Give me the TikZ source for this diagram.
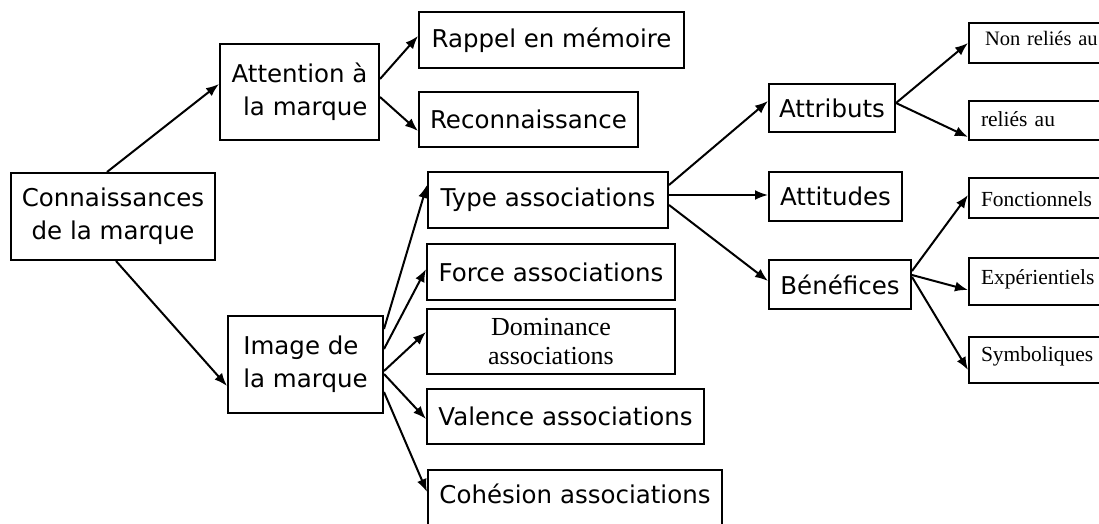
\documentclass[tikz,border=0pt]{standalone}
\usepackage{fontspec}
\setmainfont{DejaVu Sans}
\newfontfamily\seriffont{Liberation Serif}
\usetikzlibrary{arrows.meta,calc}
\begin{document}
\begin{tikzpicture}[x=1pt,y=-1pt,
  box/.style={draw, line width=2pt, inner sep=0pt, align=center, font=\fontsize{24.5}{33}\selectfont},
  rbox/.style={draw, line width=2pt, anchor=north west, inner xsep=12pt, inner ysep=0pt, text width=140pt, align=left, font=\seriffont\fontsize{21.5}{24}\selectfont},
  arr/.style={line width=2pt, -{Latex[length=13pt,width=10pt]}}]
\useasboundingbox (0,0) rectangle (1099,524);
\clip (0,0) rectangle (1099,524);
\fill[white] (0,0) rectangle (1099,524);
% left column
\node[box, minimum width=204pt, minimum height=87pt] (conn) at (113,216.5) {Connaissances\\de la marque};
\node[box, align=right, minimum width=159pt, minimum height=96pt] (att) at (299.5,92) {Attention à\\la marque};
\node[box, align=left, minimum width=155pt, minimum height=97pt] (img) at (305.5,364.5) {Image de\\la marque};
% middle column
\node[box, minimum width=265pt, minimum height=56pt] (rap) at (551.5,40) {Rappel en mémoire};
\node[box, minimum width=219pt, minimum height=55pt] (rec) at (528.5,119.5) {Reconnaissance};
\node[box, minimum width=240pt, minimum height=56pt] (type) at (548,200) {Type associations};
\node[box, minimum width=248pt, minimum height=56pt] (force) at (551,272) {Force associations};
\node[box, minimum width=248pt, minimum height=65pt, font=\seriffont\fontsize{26}{29}\selectfont] (dom) at (551,341.5) {Dominance\\associations};
\node[box, minimum width=277pt, minimum height=55pt] (val) at (565.5,416.5) {Valence associations};
\node[box, anchor=north west, minimum width=294pt, text height=33pt, text depth=58pt] (coh) at (427,469) {Cohésion associations};
% right-middle column
\node[box, minimum width=126pt, minimum height=48pt] (attr) at (832,108) {Attributs};
\node[box, minimum width=133pt, minimum height=49pt] (atti) at (835.5,196.5) {Attitudes};
\node[box, minimum width=142pt, minimum height=49pt] (ben) at (840,284.5) {Bénéfices};
% right column
\node[rbox, text height=23pt, text depth=17pt, font=\seriffont\fontsize{20.5}{24}\selectfont, inner xsep=16pt, text width=132pt] (nr) at (968,22) {Non reliés au};
\node[rbox, text height=25pt, text depth=14pt] (rel) at (968,100) {reliés au};
\node[rbox, text height=28pt, text depth=12pt] (fon) at (968,177) {Fonctionnels};
\node[rbox, text height=26pt, text depth=21pt] (exp) at (968,257) {Expérientiels};
\node[rbox, text height=24pt, text depth=22pt] (sym) at (968,336) {Symboliques};
% connectors
\draw[arr] ($(conn.north west)+(97,0)$) -- ($(att.north west)+(0,41)$);
\draw[arr] ($(conn.south west)+(106,0)$) -- ($(img.north west)+(0,71)$);
\draw[arr] ($(att.north east)+(0,36)$) -- ($(rap.north west)+(0,25)$);
\draw[arr] ($(att.north east)+(0,54)$) -- ($(rec.north west)+(0,40)$);
\draw[arr] ($(img.north east)+(0,14)$) -- ($(type.north west)+(0,14)$);
\draw[arr] ($(img.north east)+(0,34)$) -- ($(force.north west)+(0,26)$);
\draw[arr] ($(img.north east)+(0,56)$) -- ($(dom.north west)+(0,24)$);
\draw[arr] ($(img.north east)+(0,59)$) -- ($(val.north west)+(0,31)$);
\draw[arr] ($(img.north east)+(0,77)$) -- ($(coh.north west)+(0,23)$);
\draw[arr] ($(type.north east)+(0,14)$) -- ($(attr.north west)+(0,18)$);
\draw[arr] ($(type.north east)+(0,24)$) -- ($(atti.north west)+(0,24)$);
\draw[arr] ($(type.north east)+(0,34)$) -- ($(ben.north west)+(0,22)$);
\draw[arr] ($(attr.north east)+(0,20)$) -- ($(nr.north west)+(0,21)$);
\draw[arr] ($(attr.north east)+(0,20)$) -- ($(rel.north west)+(0,37)$);
\draw[arr] ($(ben.north east)+(0,12)$) -- ($(fon.north west)+(0,18)$);
\draw[arr] ($(ben.north east)+(0,16)$) -- ($(exp.north west)+(0,33)$);
\draw[arr] ($(ben.north east)+(0,18)$) -- ($(sym.north west)+(0,34)$);
\end{tikzpicture}
\end{document}
